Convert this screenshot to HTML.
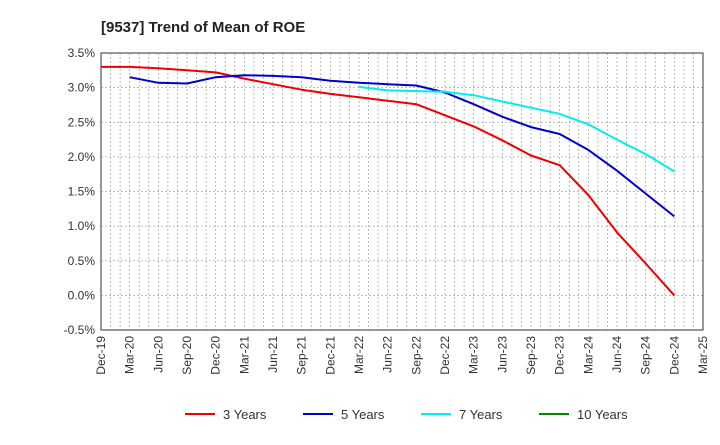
<!DOCTYPE html>
<html><head><meta charset="utf-8"><style>
body{margin:0;background:#fff;font-family:"Liberation Sans",sans-serif}
</style></head><body>
<svg width="720" height="440" xmlns="http://www.w3.org/2000/svg">
<text x="101" y="32" font-size="15" font-weight="bold" fill="#222">[9537]  Trend of Mean of ROE</text>
<g id="grid"></g>
<g id="axes"></g>
<g id="series"></g>
<g id="legend"></g>
</svg>
<script>
const xLabels=["Dec-19","Mar-20","Jun-20","Sep-20","Dec-20","Mar-21","Jun-21","Sep-21","Dec-21","Mar-22","Jun-22","Sep-22","Dec-22","Mar-23","Jun-23","Sep-23","Dec-23","Mar-24","Jun-24","Sep-24","Dec-24","Mar-25"];
const yTicks=[-0.5,0,0.5,1,1.5,2,2.5,3,3.5];
const s3=[3.30,3.30,3.28,3.25,3.22,3.13,3.05,2.97,2.91,2.86,2.81,2.76,2.60,2.44,2.24,2.02,1.88,1.45,0.91,0.46,0.00];
const s5=[null,3.15,3.07,3.06,3.15,3.18,3.17,3.15,3.10,3.07,3.05,3.03,2.93,2.76,2.58,2.43,2.33,2.10,1.80,1.47,1.14];
const s7=[null,null,null,null,null,null,null,null,null,3.01,2.96,2.95,2.94,2.89,2.80,2.71,2.62,2.47,2.25,2.04,1.79];
const s10=[];
const X0=101,X1=703,Y0=53,Y1=330,NQ=21;
const xq=i=>X0+(X1-X0)*i/NQ;
const yv=v=>Y1-(v+0.5)/4*(Y1-Y0);
const NS="http://www.w3.org/2000/svg";
function mk(tag,attrs,parent){const e=document.createElementNS(NS,tag);for(const k in attrs)e.setAttribute(k,attrs[k]);parent.appendChild(e);return e;}
const grid=document.getElementById('grid'),axes=document.getElementById('axes'),ser=document.getElementById('series'),leg=document.getElementById('legend');
for(let m=1;m<NQ*3;m++){const x=X0+(X1-X0)*m/(NQ*3);const l=mk('line',{x1:x,x2:x,y1:Y0,y2:Y1,stroke:'#aaa','stroke-dasharray':'2,2','stroke-width':0.8},grid);
}
yTicks.forEach(v=>{const y=yv(v);const l=mk('line',{x1:X0,x2:X1,y1:y,y2:y,stroke:'#aaa','stroke-dasharray':'2,2','stroke-width':0.8},grid);

const t=mk('text',{x:X0-6,y:y+4,'text-anchor':'end','font-size':12,fill:'#333'},axes);t.textContent=v.toFixed(1)+'%';
});
const r=mk('rect',{x:X0,y:Y0,width:X1-X0,height:Y1-Y0,fill:'none',stroke:'#333'},axes);

xLabels.forEach((lb,i)=>{const x=xq(i);const t=mk('text',{transform:`translate(${x+4},${Y1+6}) rotate(-90)`,'text-anchor':'end','font-size':12,fill:'#333'},axes);t.textContent=lb;
});
const series=[[s3,'#e00','3 Years'],[s5,'#00c','5 Years'],[s7,'#0ee','7 Years'],[s10,'#080','10 Years']];
series.forEach(([d,c,n],k)=>{const pts=[];d.forEach((v,i)=>{if(v!==null)pts.push(xq(i).toFixed(1)+','+yv(v).toFixed(1));});
if(pts.length){const p=mk('polyline',{points:pts.join(' '),fill:'none',stroke:c,'stroke-width':2,'stroke-linejoin':'round'},ser);
}
const lx=185+k*118;const l=mk('line',{x1:lx,x2:lx+30,y1:414,y2:414,stroke:c,'stroke-width':2},leg);

const t=mk('text',{x:lx+38,y:419,'font-size':13,fill:'#333'},leg);t.textContent=n;
});
</script>
</body></html>
